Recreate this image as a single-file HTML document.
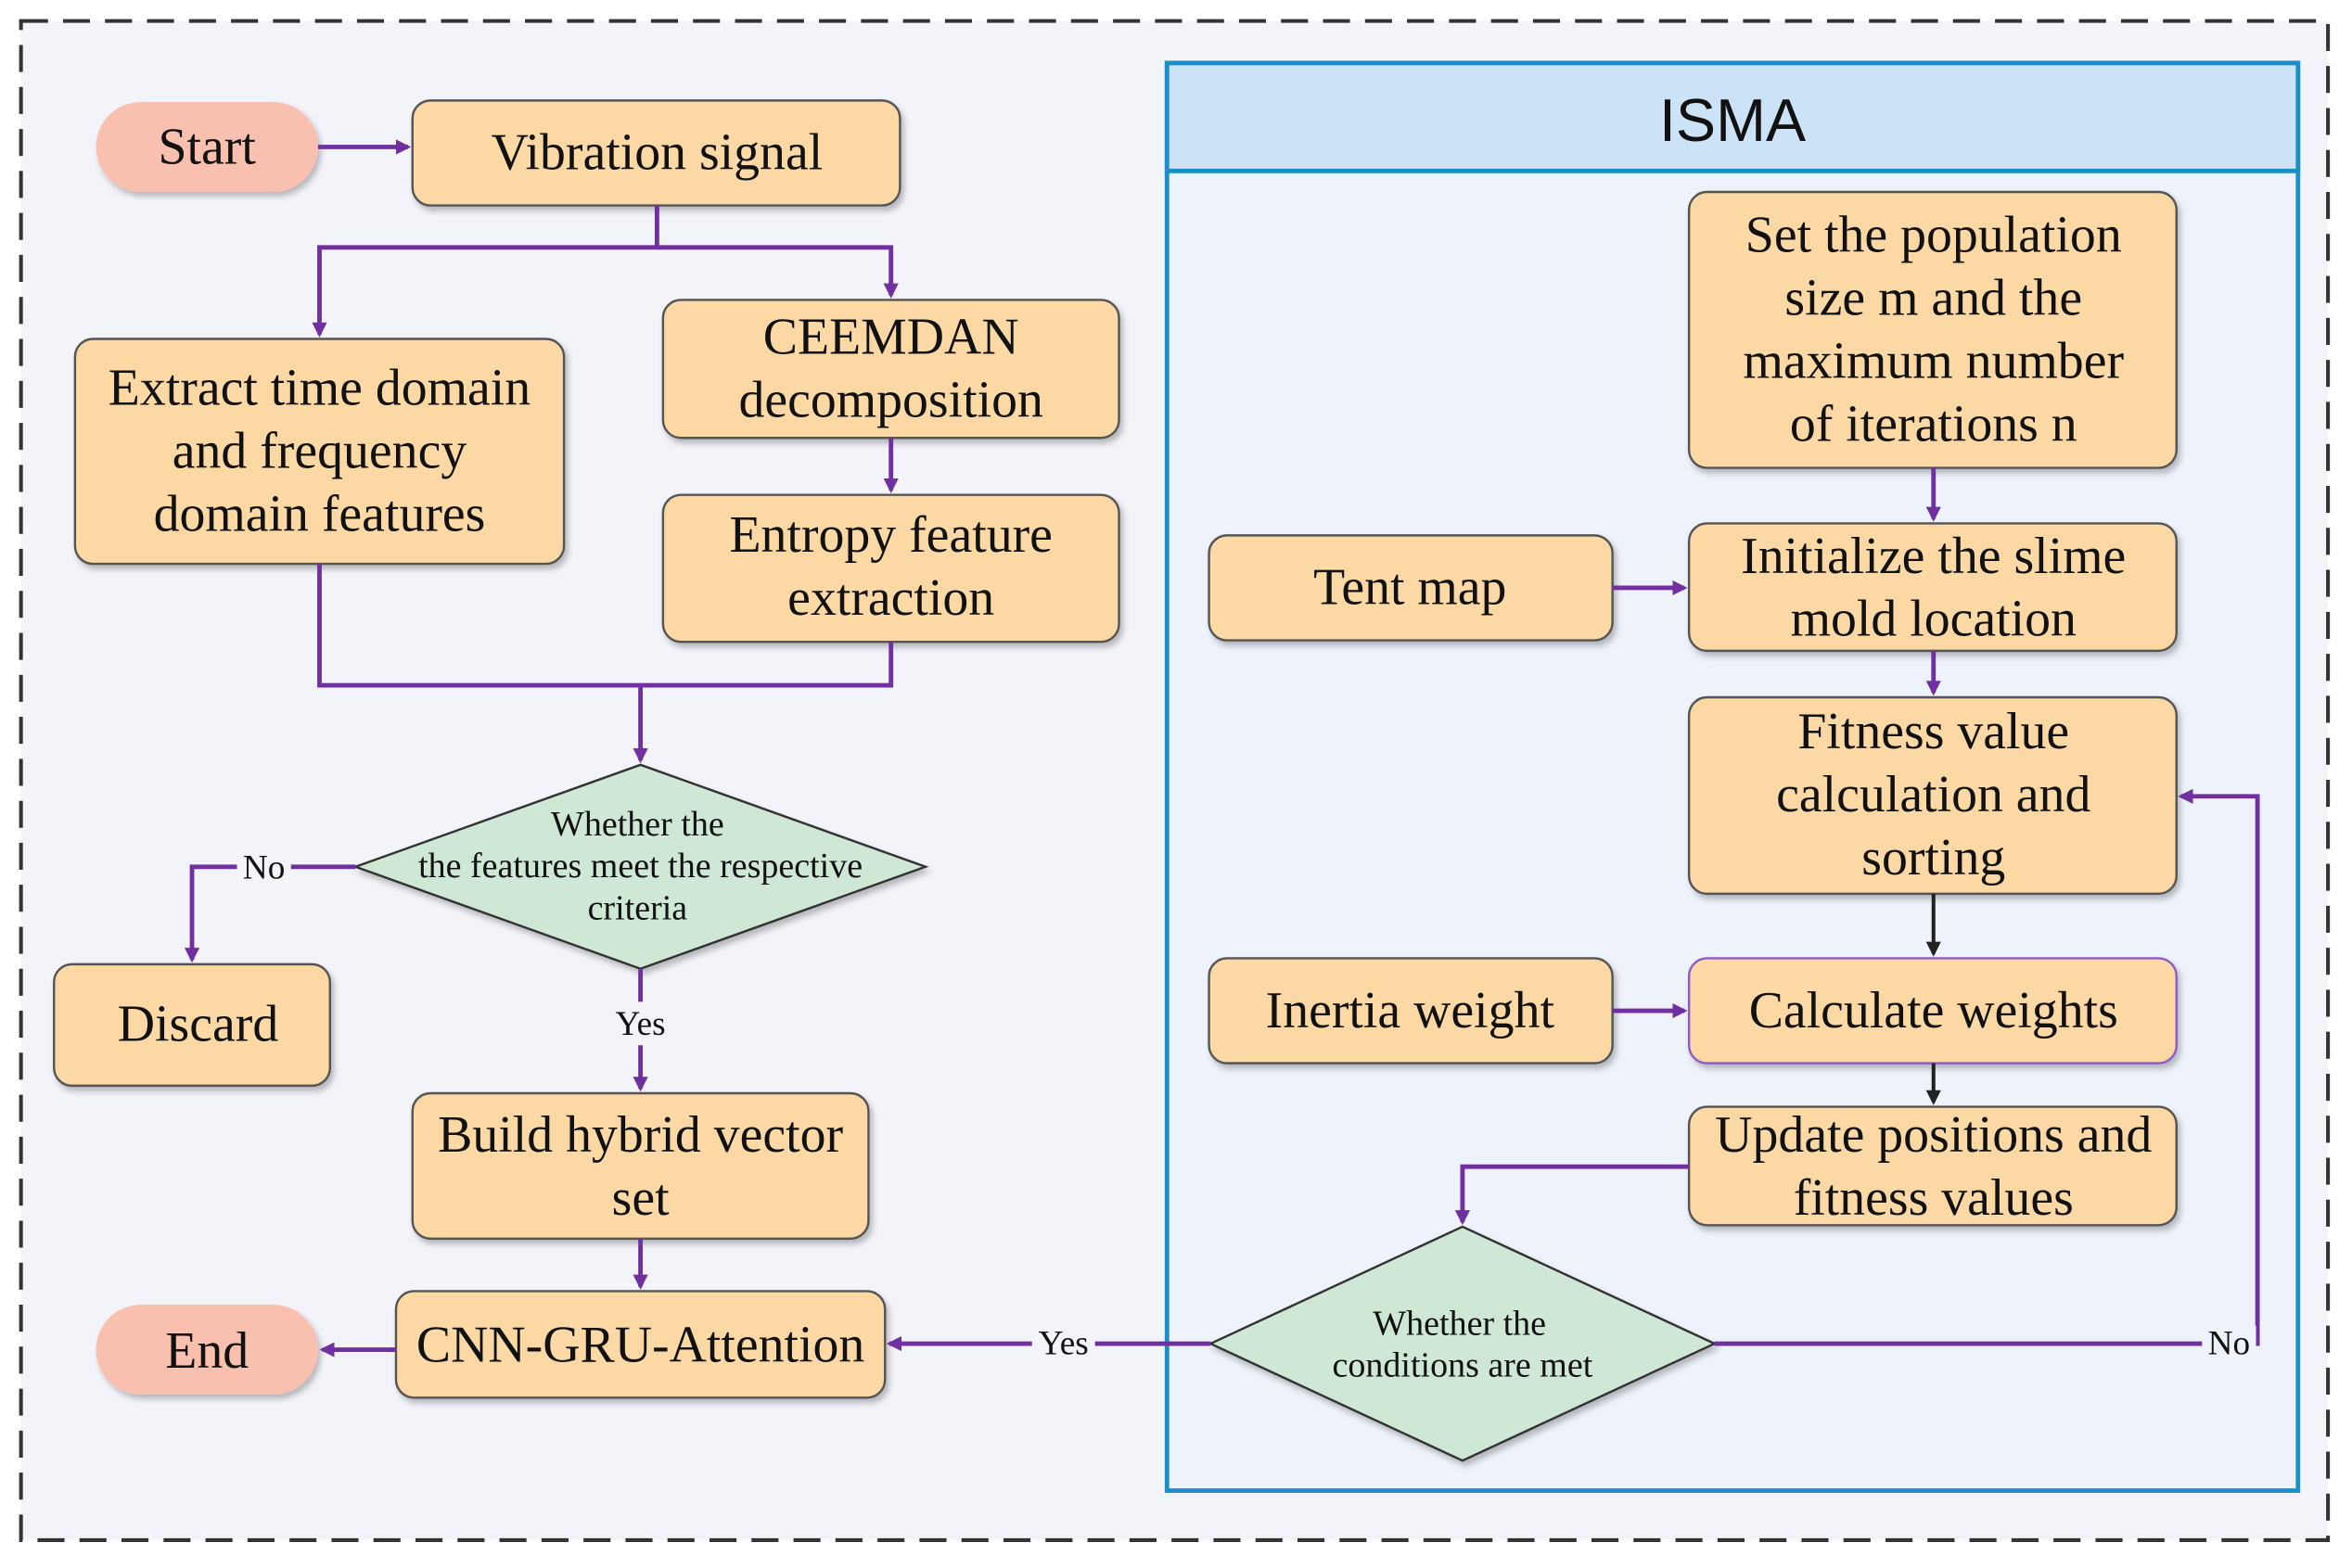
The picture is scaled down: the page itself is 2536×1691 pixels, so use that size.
<!DOCTYPE html>
<html><head><meta charset="utf-8"><style>
html,body{margin:0;padding:0;background:#fff}
svg{display:block}
text{font-family:"Liberation Serif",serif;fill:#111}
</style></head><body>
<svg width="2536" height="1691" viewBox="0 0 1568 1045.6" preserveAspectRatio="none" xmlns="http://www.w3.org/2000/svg">
<defs>
<marker id="ap" markerWidth="10" markerHeight="10" refX="8" refY="5" orient="auto" markerUnits="userSpaceOnUse"><path d="M0,0 L10,5 L0,10 z" fill="#7030a0"/></marker>
<marker id="ak" markerWidth="10" markerHeight="10" refX="8" refY="5" orient="auto" markerUnits="userSpaceOnUse"><path d="M0,0 L10,5 L0,10 z" fill="#222"/></marker>
<filter id="sh" x="-10%" y="-10%" width="130%" height="130%"><feDropShadow dx="2" dy="3" stdDeviation="2" flood-color="#000" flood-opacity="0.25"/></filter>
</defs>
<rect x="0" y="0" width="1568" height="1046" fill="#fff"/>
<rect x="14" y="14" width="1538" height="1013" fill="#f3f4fa" stroke="#333" stroke-width="2.5" stroke-dasharray="18,10"/>
<rect x="778" y="42" width="754" height="952" fill="#eef3fb" stroke="#1a8fc8" stroke-width="3"/>
<rect x="778" y="42" width="754" height="72" fill="#cce3f7" stroke="#1a8fc8" stroke-width="3"/>
<text x="1155" y="94" style="font-family:'Liberation Sans',sans-serif" font-size="40" text-anchor="middle">ISMA</text>

<g fill="#fcd9a4" stroke="#555" stroke-width="1.5" filter="url(#sh)">
<rect x="64" y="68" width="148" height="60" rx="30" fill="#f9c0b0" stroke="none"/>
<rect x="64" y="870" width="148" height="60" rx="30" fill="#f9c0b0" stroke="none"/>
<rect x="275" y="67" width="325" height="70" rx="12"/>
<rect x="50" y="226" width="326" height="150" rx="12"/>
<rect x="442" y="200" width="304" height="92" rx="12"/>
<rect x="442" y="330" width="304" height="98" rx="12"/>
<rect x="36" y="643" width="184" height="81" rx="12"/>
<rect x="275" y="729" width="304" height="97" rx="12"/>
<rect x="264" y="861" width="326" height="71" rx="12"/>
<rect x="1126" y="128" width="325" height="184" rx="12"/>
<rect x="806" y="357" width="269" height="70" rx="12"/>
<rect x="1126" y="349" width="325" height="85" rx="12"/>
<rect x="1126" y="465" width="325" height="131" rx="12"/>
<rect x="806" y="639" width="269" height="70" rx="12"/>
<rect x="1126" y="639" width="325" height="70" rx="12" stroke="#8e5cc8"/>
<rect x="1126" y="738" width="325" height="79" rx="12"/>
<polygon points="237,578 427,510 617,578 427,646" fill="#cfe8d5" stroke="#333"/>
<polygon points="807,896 975,818 1143,896 975,974" fill="#cfe8d5" stroke="#333"/>
</g>

<g fill="none" stroke="#7030a0" stroke-width="3">
<path d="M212,98 H272" marker-end="url(#ap)"/>
<path d="M438,137 V165 H213 V223" marker-end="url(#ap)"/>
<path d="M438,165 H594 V197" marker-end="url(#ap)"/>
<path d="M594,292 V327" marker-end="url(#ap)"/>
<path d="M213,376 V457 H594 V428"/>
<path d="M427,457 V507" marker-end="url(#ap)"/>
<path d="M237,578 H128 V640" marker-end="url(#ap)"/>
<path d="M427,646 V668 M427,697 V726" marker-end="url(#ap)"/>
<path d="M427,826 V858" marker-end="url(#ap)"/>
<path d="M264,900 H215" marker-end="url(#ap)"/>
<path d="M807,896 H593" marker-end="url(#ap)"/>
<path d="M1289,312 V346" marker-end="url(#ap)"/>
<path d="M1075,392 H1123" marker-end="url(#ap)"/>
<path d="M1289,434 V462" marker-end="url(#ap)"/>
<path d="M1075,674 H1123" marker-end="url(#ap)"/>
<path d="M1126,778 H975 V815" marker-end="url(#ap)"/>
<path d="M1143,896 H1505 V531 H1454" marker-end="url(#ap)"/>
</g>
<g fill="none" stroke="#222" stroke-width="2.5">
<path d="M1289,596 V636" marker-end="url(#ak)"/>
<path d="M1289,709 V735" marker-end="url(#ak)"/>
</g>
<rect x="158" y="565" width="36" height="24" fill="#f3f4fa"/>
<text x="176" y="586" font-size="23" text-anchor="middle">No</text>
<text x="427" y="690" font-size="23" text-anchor="middle">Yes</text>
<rect x="688" y="884" width="42" height="24" fill="#f3f4fa"/>
<text x="709" y="903" font-size="23" text-anchor="middle">Yes</text>
<rect x="1468" y="884" width="36" height="24" fill="#eef3fb"/>
<text x="1486" y="903" font-size="23" text-anchor="middle">No</text>

<g font-size="34.5" text-anchor="middle">
<text x="138" y="109">Start</text>
<text x="138" y="912">End</text>
<text x="438" y="113">Vibration signal</text>
<text x="213" y="270">Extract time domain</text>
<text x="213" y="312">and frequency</text>
<text x="213" y="354">domain features</text>
<text x="594" y="236">CEEMDAN</text>
<text x="594" y="278">decomposition</text>
<text x="594" y="368">Entropy feature</text>
<text x="594" y="410">extraction</text>
<text x="132" y="694">Discard</text>
<text x="427" y="768">Build hybrid vector</text>
<text x="427" y="810">set</text>
<text x="427" y="908">CNN-GRU-Attention</text>
<text x="1289" y="168">Set the population</text>
<text x="1289" y="210">size m and the</text>
<text x="1289" y="252">maximum number</text>
<text x="1289" y="294">of iterations n</text>
<text x="940" y="403">Tent map</text>
<text x="1289" y="382">Initialize the slime</text>
<text x="1289" y="424">mold location</text>
<text x="1289" y="499">Fitness value</text>
<text x="1289" y="541">calculation and</text>
<text x="1289" y="583">sorting</text>
<text x="940" y="685">Inertia weight</text>
<text x="1289" y="685">Calculate weights</text>
<text x="1289" y="768">Update positions and</text>
<text x="1289" y="810">fitness values</text>
</g>
<g font-size="23.5" text-anchor="middle">
<text x="425" y="557">Whether the</text>
<text x="427" y="585">the features meet the respective</text>
<text x="425" y="613">criteria</text>
<text x="973" y="890">Whether the</text>
<text x="975" y="918">conditions are met</text>
</g>
</svg>
</body></html>
